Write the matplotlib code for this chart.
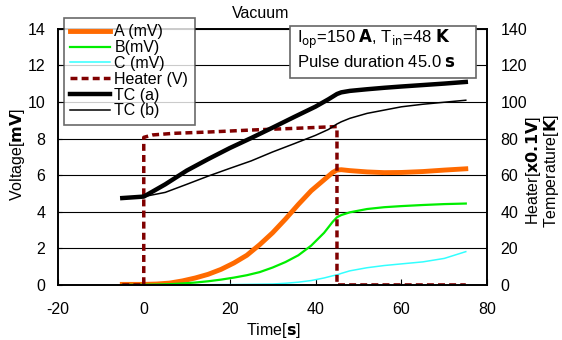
import matplotlib.pyplot as plt
from matplotlib.patches import Rectangle

plt.rcParams['font.family'] = ['Liberation Sans', 'DejaVu Sans']
plt.rcParams['font.size'] = 11.5
plt.rcParams['axes.unicode_minus'] = False

# signals A, B, C [mV]
t_sig = [-5, 0, 3, 6, 9, 12, 15, 18, 21, 24, 27, 30, 33, 36, 39, 42, 44, 45, 46, 48, 52, 56, 60, 65, 70, 75]
sig_a = [0.03, 0.03, 0.05, 0.1, 0.22, 0.38, 0.58, 0.85, 1.2, 1.62, 2.2, 2.85, 3.6, 4.4, 5.15, 5.75, 6.15, 6.28, 6.3, 6.25, 6.18, 6.14, 6.15, 6.2, 6.28, 6.35]
sig_b = [0.0, 0.01, 0.02, 0.04, 0.08, 0.13, 0.2, 0.29, 0.4, 0.53, 0.7, 0.95, 1.25, 1.62, 2.15, 2.85, 3.45, 3.7, 3.82, 3.97, 4.15, 4.25, 4.31, 4.37, 4.42, 4.45]
sig_c = [0.0, 0.0, 0.0, 0.0, 0.0, 0.01, 0.01, 0.02, 0.02, 0.03, 0.04, 0.05, 0.09, 0.15, 0.24, 0.38, 0.5, 0.55, 0.63, 0.77, 0.94, 1.06, 1.15, 1.26, 1.45, 1.82]

# heater voltage [V]
t_heat = [-5, 0, 0, 2, 7, 15, 25, 35, 45, 45, 75]
heater = [0, 0, 8.07, 8.2, 8.29, 8.36, 8.47, 8.56, 8.66, 0, 0]

# thermocouples [K]
t_tc = [-5, 0, 5, 10, 15, 20, 25, 30, 35, 40, 43, 45, 46, 48, 52, 56, 60, 65, 70, 75]
tc_a = [47.5, 48.3, 55, 62.5, 68.8, 74.8, 80.3, 86, 91.8, 97.5, 101.5, 104.4, 105.3, 106.1, 107, 107.8, 108.5, 109.3, 110.1, 111]
tc_b = [47.5, 48.3, 50.6, 55, 59.5, 63.7, 67.8, 72.7, 77.2, 81.8, 85, 88, 89.2, 91.1, 93.8, 95.6, 97.4, 98.8, 99.9, 101]

fig = plt.figure(figsize=(5.62, 3.40), dpi=100)
ax = fig.add_axes([0.103, 0.162, 0.764, 0.753])
ax2 = ax.twinx()

for v in range(2, 15, 2):
    ax.axhline(v, color='black', lw=0.8, zorder=0)

la, = ax.plot(t_sig, sig_a, color='#FF6A00', lw=3.5, label='A (mV)')
lb, = ax.plot(t_sig, sig_b, color='#00EE00', lw=1.6, label='B(mV)')
lc, = ax.plot(t_sig, sig_c, color='#33FFFF', lw=1.1, label='C (mV)')
lh, = ax.plot(t_heat, heater, color='#800000', lw=2.5, ls=(0, (2, 1.2)), label='Heater (V)')
lta, = ax2.plot(t_tc, tc_a, color='black', lw=3.2, label='TC (a)')
ltb, = ax2.plot(t_tc, tc_b, color='black', lw=1.1, label='TC (b)')

ax.set_xlim(-20, 80)
ax.set_ylim(0, 14)
ax2.set_ylim(0, 140)
ax.set_xticks(range(-20, 81, 20))
ax.set_yticks(range(0, 15, 2))
ax2.set_yticks(range(0, 141, 20))
ax.tick_params(axis='x', direction='in', length=4, pad=12)
ax.tick_params(axis='y', direction='in', length=3, pad=9)
ax2.tick_params(axis='y', length=0, pad=9.5)
for a in (ax, ax2):
    for s in a.spines.values():
        s.set_linewidth(1.2)

fig.text(0.463, 0.959, 'Vacuum', ha='center', va='center')
fig.text(0.486, 0.029, r'Time[$\bf{s}$]', ha='center', va='center')
fig.text(0.031, 0.547, r'Voltage[$\bf{mV}$]', rotation=90, ha='center', va='center')
fig.text(0.950, 0.497, r'Heater[$\bf{x0.1V}$]', rotation=90, ha='center', va='center')
fig.text(0.982, 0.497, r'Temperature[$\bf{K}$]', rotation=90, ha='center', va='center')

# info box
fig.patches.append(Rectangle((0.516, 0.7706), 0.331, 0.153, transform=fig.transFigure,
                             fc='white', ec='#666666', lw=1.2, zorder=5))
fig.text(0.528, 0.8735, r'I$_{\rm op}$=150 $\bf{A}$, T$_{\rm in}$=48 $\bf{K}$',
         ha='left', va='baseline', fontsize=12, zorder=6)
fig.text(0.528, 0.803, r'Pulse duration 45.0 $\bf{s}$', ha='left', va='baseline',
         fontsize=12, zorder=6)

leg = fig.legend(handles=[la, lb, lc, lh, lta, ltb], loc='upper left',
                 bbox_to_anchor=(0.114, 0.947), borderaxespad=0, frameon=True,
                 fancybox=False, edgecolor='#444444', fontsize=11.5, handlelength=2.5,
                 handletextpad=0.25, labelspacing=0.05, borderpad=0.4)
leg.get_frame().set_linewidth(1.2)

fig.savefig('out.png', dpi=100)
